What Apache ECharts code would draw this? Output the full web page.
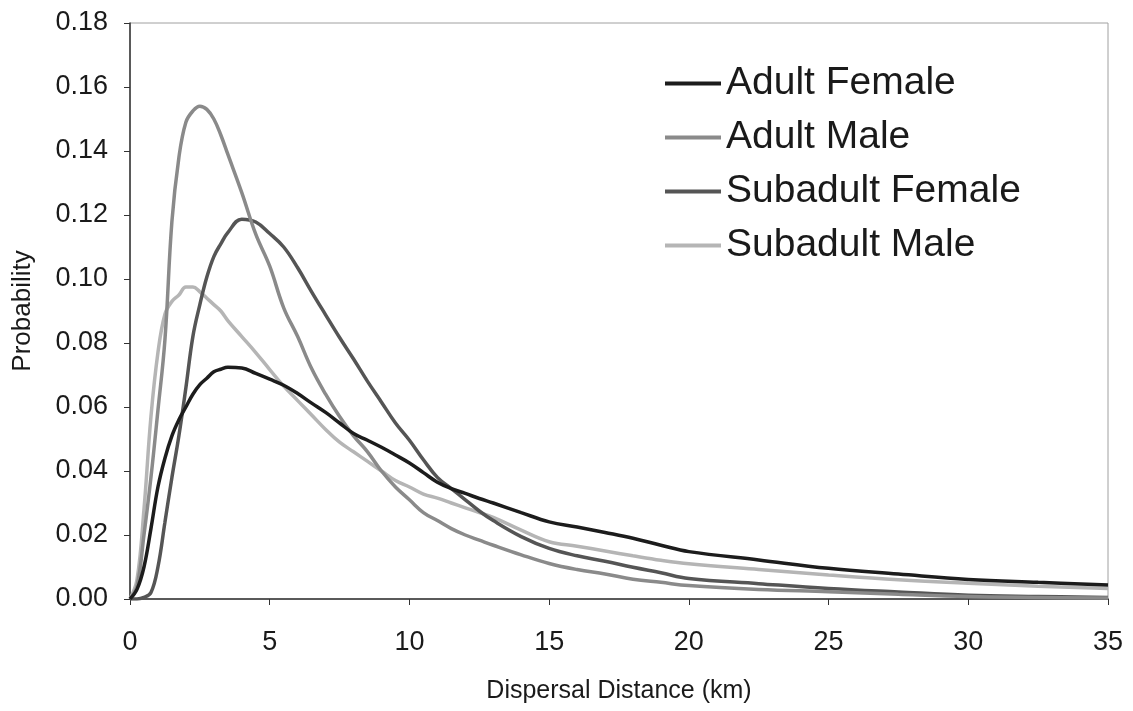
<!DOCTYPE html>
<html>
<head>
<meta charset="utf-8">
<script src="https://cdn.jsdelivr.net/npm/echarts@6/dist/echarts.min.js"></script>
<style>
html,body{margin:0;padding:0;background:#fff;}
#chart{width:1133px;height:711px;}
</style>
</head>
<body>
<div id="chart"></div>
<script>
var distance = [0,0.25,0.5,0.75,1,1.25,1.5,1.75,2,2.25,2.5,2.75,3,3.25,3.5,4,4.5,5,5.5,6,6.5,7,7.5,8,8.5,9,9.5,10,10.5,11,11.5,12,12.5,13,14,15,16,17,18,19,20,22.5,25,27.5,30,32.5,35];

var adultFemale = [0,0.003,0.010,0.022,0.035,0.044,0.051,0.056,0.060,0.064,0.067,0.069,0.071,0.0718,0.0724,0.0722,0.0705,0.0687,0.0668,0.0642,0.0612,0.0583,0.055,0.0517,0.0496,0.0474,0.045,0.0425,0.0395,0.0365,0.0345,0.033,0.0314,0.030,0.027,0.0241,0.0225,0.0208,0.019,0.0168,0.0148,0.0122,0.0096,0.0078,0.0061,0.0052,0.0044];

var adultMale = [0,0.004,0.020,0.038,0.059,0.081,0.118,0.138,0.149,0.1525,0.154,0.153,0.150,0.145,0.139,0.127,0.114,0.104,0.091,0.082,0.072,0.064,0.057,0.051,0.046,0.040,0.035,0.031,0.027,0.0245,0.022,0.020,0.0184,0.0168,0.0138,0.0111,0.0092,0.0078,0.0062,0.0052,0.0042,0.0030,0.0023,0.0015,0.0008,0.0005,0.0003];

var subadultFemale = [0,0,0.0005,0.002,0.010,0.024,0.038,0.051,0.066,0.082,0.092,0.1006,0.107,0.111,0.1145,0.1187,0.1178,0.1142,0.110,0.1035,0.096,0.0888,0.0817,0.075,0.068,0.0615,0.055,0.0496,0.0435,0.038,0.0345,0.031,0.0275,0.0245,0.0195,0.0158,0.0135,0.0118,0.0099,0.0082,0.0064,0.0048,0.0033,0.0022,0.0012,0.0008,0.0005];

var subadultMale = [0,0.006,0.028,0.057,0.077,0.089,0.093,0.095,0.0975,0.0975,0.096,0.094,0.092,0.090,0.087,0.082,0.077,0.0717,0.0665,0.062,0.0575,0.053,0.049,0.046,0.043,0.040,0.037,0.035,0.0328,0.0315,0.030,0.0285,0.027,0.0255,0.0215,0.0179,0.0165,0.015,0.0135,0.0121,0.0110,0.0092,0.0075,0.0060,0.0049,0.0040,0.0033];

var seriesNames = ['Adult Female','Adult Male','Subadult Female','Subadult Male'];
var seriesColors = ['#1c1c1c','#8a8a8a','#555555','#b5b5b5'];
var seriesValues = [adultFemale, adultMale, subadultFemale, subadultMale];

function pairs(vals){ return distance.map(function(x,i){ return [x, vals[i]]; }); }

var font = '"Liberation Sans", Arial, sans-serif';
var chart = echarts.init(document.getElementById('chart'));
chart.setOption({
  animation: false,
  backgroundColor: '#fff',
  grid: { left: 130, right: 25, top: 23, bottom: 112, show: true, borderColor: '#a0a0a0', borderWidth: 1 },
  legend: {
    orient: 'vertical', left: 660, top: 59,
    icon: 'rect', itemWidth: 56, itemHeight: 4, itemGap: 15,
    textStyle: { fontFamily: font, fontSize: 39, color: '#1a1a1a', padding: [0,0,0,0] },
    data: seriesNames
  },
  xAxis: {
    type: 'value', min: 0, max: 35, interval: 5,
    name: 'Dispersal Distance (km)', nameLocation: 'middle', nameGap: 80,
    nameTextStyle: { fontFamily: font, fontSize: 25, color: '#1a1a1a' },
    axisLine: { lineStyle: { color: '#333', width: 1.5 } },
    axisTick: { length: 6, lineStyle: { color: '#333' } },
    axisLabel: { fontFamily: font, fontSize: 27, color: '#1a1a1a', margin: 30 },
    splitLine: { show: false }
  },
  yAxis: {
    type: 'value', min: 0, max: 0.18, interval: 0.02,
    name: 'Probability', nameLocation: 'middle', nameGap: 94, nameRotate: 90,
    nameTextStyle: { fontFamily: font, fontSize: 26, color: '#1a1a1a' },
    axisLine: { show: true, lineStyle: { color: '#333', width: 1.5 } },
    axisTick: { show: true, length: 6, lineStyle: { color: '#333' } },
    axisLabel: { fontFamily: font, fontSize: 27, color: '#1a1a1a', margin: 22,
      formatter: function(v){ return v.toFixed(2); } },
    splitLine: { show: false }
  },
  series: seriesNames.map(function(n, i){
    return {
      name: n, type: 'line', data: pairs(seriesValues[i]),
      smooth: 0.4, showSymbol: false, symbol: 'none',
      lineStyle: { color: seriesColors[i], width: 3.5 },
      itemStyle: { color: seriesColors[i] },
      z: 10 - i
    };
  })
});
</script>
</body>
</html>
